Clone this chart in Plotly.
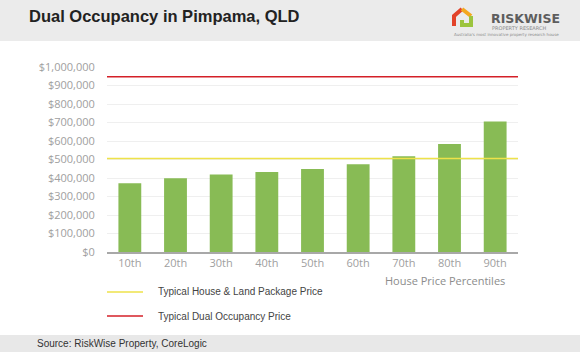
import plotly.graph_objects as go

# ---- data ----
percentiles = ["10th", "20th", "30th", "40th", "50th", "60th", "70th", "80th", "90th"]
house_prices = [372000, 399000, 419000, 432000, 448000, 475000, 517000, 584000, 706000]
house_land_price = 505000
dual_occ_price = 947000
y_ticks = [0, 100000, 200000, 300000, 400000, 500000, 600000, 700000, 800000, 900000, 1000000]

# ---- geometry helpers (pixel -> paper) ----
W, H = 580, 352
L, R, T, B = 107, 62, 67, 100
PW, PH = W - L - R, H - T - B


def fx(px):
    return (px - L) / PW


def fy(py):
    return (H - B - py) / PH


BAR = "#88bb55"
YEL = "#eee24a"
RED = "#d42028"

fig = go.Figure()
fig.add_trace(go.Bar(x=percentiles, y=house_prices, marker=dict(color=BAR, line=dict(width=0)),
                     showlegend=False, hoverinfo="x+y"))

shapes = []
# header/footer bands
shapes.append(dict(type="rect", xref="paper", yref="paper", x0=fx(0), x1=fx(W), y0=fy(41), y1=fy(0),
                   fillcolor="#ebebeb", line=dict(width=0), layer="below"))
shapes.append(dict(type="rect", xref="paper", yref="paper", x0=fx(0), x1=fx(W), y0=fy(W), y1=fy(335),
                   fillcolor="#e8e8e8", line=dict(width=0), layer="below"))
# reference lines
shapes.append(dict(type="line", xref="paper", yref="y", x0=0, x1=1, y0=house_land_price, y1=house_land_price,
                   line=dict(color=YEL, width=1.5)))
shapes.append(dict(type="line", xref="paper", yref="y", x0=0, x1=1, y0=dual_occ_price, y1=dual_occ_price,
                   line=dict(color=RED, width=1.5)))
# manual legend lines
shapes.append(dict(type="line", xref="paper", yref="paper", x0=fx(107), x1=fx(143), y0=fy(292), y1=fy(292),
                   line=dict(color=YEL, width=1.5)))
shapes.append(dict(type="line", xref="paper", yref="paper", x0=fx(107), x1=fx(143), y0=fy(316), y1=fy(316),
                   line=dict(color=RED, width=1.5)))


# logo icon
def path(pts):
    return "M " + " L ".join(f"{fx(x)},{fy(y)}" for x, y in pts)


shapes.append(dict(type="path", xref="paper", yref="paper", path=path([(454, 26), (454, 16), (462, 9)]),
                   line=dict(color="#e2432a", width=4)))
shapes.append(dict(type="path", xref="paper", yref="paper", path=path([(462, 9), (471, 16)]),
                   line=dict(color="#f3a81f", width=4)))
shapes.append(dict(type="path", xref="paper", yref="paper", path=path([(471, 16), (471, 25), (462, 25), (462, 20)]),
                   line=dict(color="#9cc43e", width=4)))

annotations = [
    dict(text="<b>Dual Occupancy in Pimpama, QLD</b>", xref="paper", yref="paper", x=fx(27), y=fy(16),
         xanchor="left", yanchor="middle", showarrow=False,
         font=dict(family="Liberation Sans, Arial", size=16.5, color="#222222")),
    dict(text="<b>RISKWISE</b>", xref="paper", yref="paper", x=fx(489), y=fy(18),
         xanchor="left", yanchor="middle", showarrow=False,
         font=dict(family="DejaVu Sans", size=12.5, color="#5e5e5e")),
    dict(text="PROPERTY RESEARCH", xref="paper", yref="paper", x=fx(490), y=fy(28.5),
         xanchor="left", yanchor="middle", showarrow=False,
         font=dict(family="DejaVu Sans", size=5, color="#8a8a8a")),
    dict(text="Australia's most innovative property research house", xref="paper", yref="paper", x=fx(506),
         y=fy(34.5), xanchor="center", yanchor="middle", showarrow=False,
         font=dict(family="DejaVu Sans", size=4, color="#8a8a8a")),
    dict(text="House Price Percentiles", xref="paper", yref="paper", x=fx(507), y=fy(280),
         xanchor="right", yanchor="middle", showarrow=False,
         font=dict(family="Open Sans", size=11, color="#8c8c8c")),
    dict(text="Typical House &amp; Land Package Price", xref="paper", yref="paper", x=fx(156), y=fy(291),
         xanchor="left", yanchor="middle", showarrow=False,
         font=dict(family="Liberation Sans, Arial", size=10, color="#444444")),
    dict(text="Typical Dual Occupancy Price", xref="paper", yref="paper", x=fx(156), y=fy(316),
         xanchor="left", yanchor="middle", showarrow=False,
         font=dict(family="Liberation Sans, Arial", size=10, color="#444444")),
    dict(text="Source: RiskWise Property, CoreLogic", xref="paper", yref="paper", x=fx(35), y=fy(343),
         xanchor="left", yanchor="middle", showarrow=False,
         font=dict(family="Liberation Sans, Arial", size=10, color="#333333")),
]

fig.update_layout(
    width=W, height=H,
    margin=dict(l=L, r=R, t=T, b=B),
    paper_bgcolor="white", plot_bgcolor="white",
    bargap=0.5,
    shapes=shapes, annotations=annotations,
    showlegend=False,
    xaxis=dict(showgrid=False, showline=True, linecolor="#a8a8a8", linewidth=1.5,
               tickfont=dict(family="Open Sans", size=11, color="#a0a0a0"), ticks="", fixedrange=True),
    yaxis=dict(range=[0, 1000000], tickvals=y_ticks, tickformat="$,.0f",
               showgrid=True, gridcolor="#efefef", gridwidth=1, zeroline=False,
               ticks="outside", ticklen=9, tickcolor="rgba(0,0,0,0)",
               tickfont=dict(family="Open Sans", size=11, color="#a0a0a0")),
)

fig.write_html("out.html")
